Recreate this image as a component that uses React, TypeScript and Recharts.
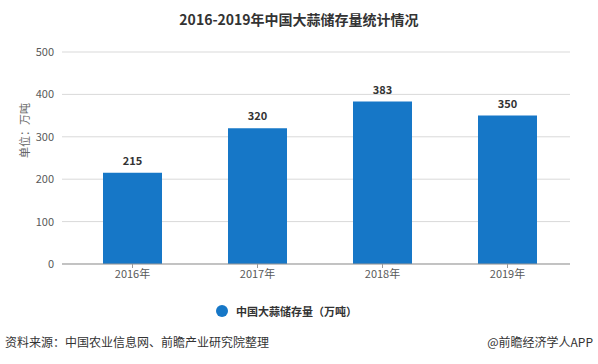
import { BarChart, Bar, XAxis, YAxis, CartesianGrid, LabelList } from "recharts";

const YEARS = ["2016年", "2017年", "2018年", "2019年"];
const STOCK = [215, 320, 383, 350];
const Y_TICKS = [0, 100, 200, 300, 400, 500];

const SERIES_NAME = "中国大蒜储存量（万吨）";
const BAR_COLOR = "#1677c7";
const FONT = "'Noto Sans CJK SC', 'Noto Sans', sans-serif";

const chartData = YEARS.map((year, i) => ({ year, stock: STOCK[i] }));

export default function App() {
  return (
    <div style={{ position: "absolute", left: 0, top: 0, width: 598, height: 364, background: "#fff", fontFamily: FONT }}>
      <div style={{ position: "absolute", top: 9, left: 0, width: 598, textAlign: "center", fontSize: 14, fontWeight: 700, color: "#333" }}>
        2016-2019年中国大蒜储存量统计情况
      </div>
      <BarChart width={598} height={364} data={chartData} margin={{ top: 52, right: 28, bottom: 70, left: 0 }}>
        <CartesianGrid vertical={false} stroke="#d9d9d9" />
        <XAxis dataKey="year" height={30} padding={{ left: 8, right: 0 }} tick={{ fill: "#595959", fontSize: 11, fontFamily: FONT }}
          tickLine={{ stroke: "#999" }} tickSize={4} axisLine={{ stroke: "#999" }} interval={0} />
        <YAxis width={62} domain={[0, 500]} ticks={Y_TICKS} tick={{ fill: "#595959", fontSize: 11, fontFamily: FONT }}
          tickLine={false} axisLine={false}
          label={{ value: "单位：万吨", angle: -90, position: "insideLeft", dx: 20, fill: "#666", fontSize: 11, fontFamily: FONT }} />
        <Bar dataKey="stock" name={SERIES_NAME} fill={BAR_COLOR} barSize={59} isAnimationActive={false}>
          <LabelList dataKey="stock" position="top" offset={8} style={{ fill: "#333", fontSize: 11, fontWeight: 700, fontFamily: FONT }} />
        </Bar>
      </BarChart>
      <div style={{ position: "absolute", top: 303, left: 216, display: "flex", alignItems: "center" }}>
        <span style={{ width: 12, height: 12, borderRadius: "50%", background: BAR_COLOR, display: "inline-block", marginRight: 8 }} />
        <span style={{ fontSize: 11, fontWeight: 700, color: "#333" }}>{SERIES_NAME}</span>
      </div>
      <div style={{ position: "absolute", top: 333, left: 5, fontSize: 12, color: "#333" }}>
        资料来源：中国农业信息网、前瞻产业研究院整理
      </div>
      <div style={{ position: "absolute", top: 333, right: 5, fontSize: 12, color: "#333" }}>
        @前瞻经济学人APP
      </div>
    </div>
  );
}
